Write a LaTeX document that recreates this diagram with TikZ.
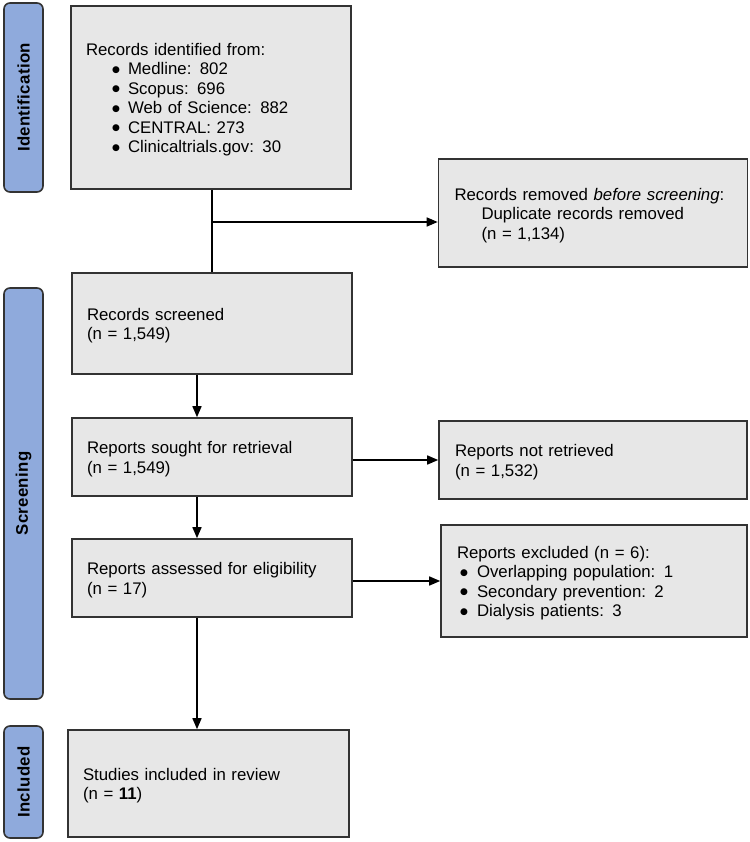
\documentclass[tikz,border=0pt]{standalone}
\usepackage{fontspec}
\setmainfont{Liberation Sans}
\newfontfamily\symfont{DejaVu Sans}
\usetikzlibrary{arrows.meta}
\definecolor{barblue}{HTML}{8FAADC}
\definecolor{boxgray}{HTML}{E7E7E7}
\definecolor{edgegray}{HTML}{333333}
\tikzset{
  box/.style={draw=edgegray, line width=1.6pt, fill=boxgray, rectangle, align=left,
    inner xsep=15pt, inner ysep=0pt, font=\fontsize{16.8}{19.5}\selectfont,
    execute at begin node={\rule{0pt}{16.5pt}}},
  bar/.style={draw=edgegray, line width=1.6pt, fill=barblue, rounded corners=6pt,
    rotate=90, minimum height=39pt, inner sep=0pt,
    font=\fontsize{16.8}{19}\selectfont\bfseries\addfontfeature{LetterSpace=2}},
  conn/.style={line width=1.5pt, black},
  arr/.style={conn, -{Triangle[length=11pt,width=9pt]}}
}
\newcommand{\bigbul}{\raisebox{2.6pt}{\symfont\fontsize{9}{10}\selectfont ●}}
\newcommand{\bul}{\hspace*{26pt}\makebox[16pt][l]{\bigbul}}
\newcommand{\bulx}{\hspace*{3pt}\makebox[17pt][l]{\bigbul}}
\begin{document}
\begin{tikzpicture}[x=1pt,y=-1pt]
\useasboundingbox (0,0) rectangle (749,842);
% side bars
\node[bar, minimum width=189pt] (I1) at (23.5,97.5) {Identification};
\node[bar, minimum width=411pt] (I2) at (23.5,493.5) {Screening};
\node[bar, minimum width=112pt] (I3) at (23.5,782) {Included};
% boxes
\node[box, text width=250pt, minimum height=183pt] (A) at (211,97.5)
  {Records identified from:\\
   \bul Medline: 802\\
   \bul Scopus: 696\\
   \bul Web of Science: 882\\
   \bul CENTRAL: 273\\
   \bul Clinicaltrials.gov: 30};
\node[box, text width=277pt, minimum height=108pt, inner xsep=16pt] (B) at (593,213)
  {Records removed \textit{before screening}:\\
   \hspace*{27pt}Duplicate records removed\\
   \hspace*{27pt}(n = 1,134)};
\node[box, text width=250pt, minimum height=101pt] (C) at (212,323.5)
  {Records screened\\(n = 1,549)};
\node[box, text width=250pt, minimum height=78pt] (D) at (212,457)
  {Reports sought for retrieval\\(n = 1,549)};
\node[box, text width=276pt, minimum height=78pt, inner xsep=16pt] (E) at (593,460)
  {Reports not retrieved\\(n = 1,532)};
\node[box, text width=250pt, minimum height=78pt] (F) at (212,578)
  {Reports assessed for eligibility\\(n = 17)};
\node[box, text width=274pt, minimum height=112pt, inner xsep=16pt] (G) at (594,581)
  {Reports excluded (n = 6):\\
   \bulx Overlapping population: 1\\
   \bulx Secondary prevention: 2\\
   \bulx Dialysis patients: 3};
\node[box, text width=251pt, minimum height=107pt] (H) at (208.5,783.5)
  {Studies included in review\\(n = \textbf{11})};
% connectors
\coordinate (vx) at (197,0);
\coordinate (br) at (212,222);
\draw[conn] (A.south -| br) -- (C.north -| br);
\draw[arr] (br) -- (B.west |- br);
\draw[arr] (C.south -| vx) -- (D.north -| vx);
\draw[arr] (D.south -| vx) -- (F.north -| vx);
\draw[arr] (F.south -| vx) -- (H.north -| vx);
\draw[arr] (E.west -| D.east) -- (E.west);
\draw[arr] (G.west -| F.east) -- (G.west);
\end{tikzpicture}
\end{document}
